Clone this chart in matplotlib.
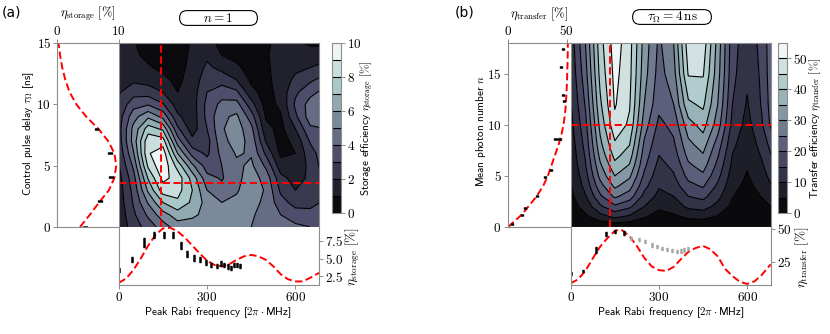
import numpy as np
import matplotlib
matplotlib.use('Agg')
import matplotlib.pyplot as plt
from matplotlib.patches import FancyBboxPatch
from matplotlib.ticker import FuncFormatter

plt.rcParams['mathtext.fontset'] = 'cm'
plt.rcParams['font.family'] = ['cmss10', 'DejaVu Sans']
plt.rcParams['axes.unicode_minus'] = False

# ---------------- data: panel (a) ----------------
rabi_a = [0, 50, 100, 150, 200, 250, 300, 350, 400, 450, 500, 550, 600, 650, 700]
delay_a = list(range(16))
# storage efficiency, one list per Rabi frequency column (delay 0..15 ns)
eta_storage_cols = [
    [1.2, 1.3, 1.4, 1.5, 1.65, 1.9, 2.2, 2.5, 2.6, 2.5, 2.2, 1.9, 1.7, 1.5, 1.4, 1.3],
    [2.5, 2.8, 3.1, 3.3, 3.6, 4.2, 4.9, 5.4, 5.3, 4.6, 3.6, 2.6, 1.8, 1.3, 1.15, 1.05],
    [3.4, 4.2, 5.1, 6.2, 7.1, 8.2, 8.9, 8.7, 7.5, 5.8, 3.9, 2.5, 1.6, 1.1, 0.8, 0.7],
    [4.5, 5.6, 7.0, 8.5, 9.3, 9.8, 9.6, 8.5, 6.8, 4.7, 3.1, 2.0, 1.2, 0.8, 0.5, 0.3],
    [5.5, 6.5, 7.8, 8.4, 8.6, 7.6, 6.0, 4.5, 3.2, 2.2, 1.5, 1.0, 0.8, 0.65, 0.6, 0.6],
    [5.5, 6.2, 6.8, 7.0, 6.6, 5.2, 3.6, 2.3, 1.5, 1.4, 1.5, 1.5, 1.4, 1.3, 1.2, 1.1],
    [5.5, 5.7, 5.6, 5.0, 4.3, 3.5, 2.8, 2.6, 3.0, 3.3, 3.3, 3.0, 2.6, 2.2, 1.8, 1.4],
    [5.5, 5.4, 5.0, 4.3, 3.9, 4.0, 4.3, 4.7, 4.9, 4.8, 4.3, 3.5, 2.6, 1.7, 1.0, 0.7],
    [5.3, 5.3, 5.2, 4.9, 4.7, 4.8, 5.1, 5.4, 5.5, 5.2, 4.4, 3.2, 2.0, 1.2, 0.7, 0.5],
    [5.0, 5.1, 5.3, 5.5, 5.5, 5.2, 4.9, 4.7, 4.3, 3.5, 2.4, 1.3, 0.8, 0.6, 0.6, 0.6],
    [4.7, 4.7, 4.8, 4.9, 4.6, 3.8, 2.8, 1.9, 1.3, 0.9, 0.6, 0.6, 0.7, 0.8, 0.9, 0.9],
    [4.5, 4.0, 3.4, 2.8, 2.3, 1.4, 0.8, 0.6, 0.7, 0.9, 1.2, 1.4, 1.5, 1.5, 1.4, 1.2],
    [4.2, 3.5, 2.6, 2.0, 1.6, 1.2, 1.0, 1.3, 2.0, 2.8, 3.2, 2.8, 2.2, 1.8, 1.5, 1.1],
    [4.0, 3.4, 2.6, 2.2, 2.2, 2.3, 2.6, 3.1, 3.8, 4.5, 4.4, 3.7, 2.8, 2.0, 1.3, 0.9],
    [3.8, 3.5, 3.2, 3.1, 3.3, 3.5, 3.6, 3.7, 4.0, 4.6, 4.8, 4.3, 3.4, 2.4, 1.5, 0.8],
]
cut_rabi_a = 143
cut_delay_a = 3.6

# side panel (left): storage vs delay
side_delay_a = [0, 1, 2, 3, 4, 5, 6, 7, 8, 9, 10, 11, 12, 13, 14, 15]
side_eta_a = [3.7, 5.3, 6.8, 8.4, 9.3, 9.6, 9.3, 8.3, 6.7, 4.7, 3.1, 2.0, 1.3, 0.8, 0.45, 0.2]
pts_delay_a = [0, 2.1, 4.1, 6.05, 8.0]
pts_eta_delay_a = [4.5, 7.0, 8.7, 8.6, 6.4]
pts_eta_delay_err_a = [0.3, 0.3, 0.3, 0.3, 0.3]

# bottom panel: storage vs Rabi frequency
bot_rabi_a = [0, 25, 50, 75, 100, 125, 150, 175, 200, 225, 250, 275, 300, 325, 350, 375,
              400, 425, 450, 475, 500, 525, 550, 575, 600, 625, 650, 680]
bot_eta_a = [1.6, 2.2, 3.4, 5.0, 6.8, 8.3, 9.2, 9.3, 8.8, 7.9, 6.8, 5.7, 4.7, 4.1, 3.9, 4.2,
             4.8, 5.3, 5.5, 5.3, 4.8, 3.9, 2.8, 2.1, 1.8, 1.8, 2.3, 3.0]
pts_rabi_a = [2, 45, 86, 120, 153, 183, 210, 233, 254, 275, 297, 315, 333, 347, 358, 370,
              382, 393, 403, 413]
pts_eta_rabi_a = [3.4, 4.9, 7.2, 8.3, 8.3, 8.3, 6.8, 5.6, 5.1, 4.8, 4.4, 4.1, 4.0, 4.3, 4.1,
                  3.9, 3.7, 4.1, 4.1, 4.0]
pts_eta_rabi_err_a = [0.3, 0.35, 0.6, 0.45, 0.45, 0.45, 0.5, 0.45, 0.4, 0.35, 0.35, 0.3, 0.3,
                      0.35, 0.3, 0.3, 0.3, 0.3, 0.3, 0.3]

# ---------------- data: panel (b) ----------------
rabi_b = [0, 50, 100, 150, 200, 250, 300, 350, 400, 450, 500, 550, 600, 650, 700]
photon_b = [0, 1, 2, 3, 4, 5, 6, 7, 8, 10, 12, 15, 18]
eta_transfer_cols = [
    [0, 1.5, 2.8, 3.8, 4.6, 5.3, 6.0, 6.6, 7.2, 8.5, 9.6, 11, 12],
    [0, 4, 7, 9.5, 11.5, 13, 14.5, 15.5, 16.5, 18.5, 20.5, 23, 25],
    [0.5, 8, 14, 19, 23, 26.5, 29, 31.5, 33.5, 36.5, 39, 41.5, 43],
    [1, 11, 19, 26, 31, 35, 38.5, 41.5, 44, 48.5, 50.5, 51.5, 52.5],
    [0.8, 9, 16, 22.5, 27, 31, 34.5, 37.5, 40, 44, 45.5, 46.5, 47],
    [0.5, 5.5, 10, 13.5, 16.5, 19, 21, 22.5, 24, 27.5, 30, 32, 33],
    [0.3, 3, 6, 8.5, 10.5, 12, 13.5, 15, 16.2, 18.7, 21.5, 23, 24],
    [0.4, 4, 7.5, 10, 12.5, 14.5, 16, 17.5, 19, 21.5, 25, 28, 30],
    [0.5, 6, 11, 15, 18.5, 21.5, 24, 26.5, 28.5, 33, 39, 45.5, 48],
    [0.6, 6.5, 12, 16.5, 20.5, 24, 27, 29.5, 32, 37, 41, 45.5, 48],
    [0.4, 4.5, 8.5, 11.5, 14, 16.5, 18.5, 20.5, 22.5, 27.5, 30, 32, 33],
    [0.2, 2, 3.8, 5.2, 6.5, 7.7, 8.8, 9.8, 11, 13.5, 15, 16.5, 17],
    [0, 0.8, 1.8, 2.8, 3.7, 4.6, 5.4, 6.1, 6.8, 8.2, 9.5, 11, 12],
    [0.2, 1.8, 3.5, 5.2, 6.8, 8.1, 9.3, 10.5, 11.7, 14.5, 15.5, 16, 16.5],
    [0.3, 3, 6, 9, 11.5, 13.5, 15.5, 17.5, 19.5, 25, 26, 27, 27],
]
cut_rabi_b = 135
cut_photon_b = 10

side_photon_b = [0, 0.5, 1, 1.5, 2, 2.5, 3, 4, 5, 6, 7, 8, 9, 10, 11, 12, 14, 16, 18]
side_eta_b = [0.5, 5, 10, 14, 17.5, 21, 24.5, 30, 34, 37, 40, 43, 45.5, 47.3, 48.5, 49.3,
              50.2, 50.7, 51.0]
pts_photon_b = [0.3, 1.15, 1.9, 3.0, 4.9, 5.6, 8.6, 8.6, 12.3, 12.9, 15.7, 17.4]
pts_eta_photon_b = [4, 12, 14.5, 24.5, 31.5, 36.5, 40.5, 44.0, 47.5, 47, 45.5, 46.5]
pts_eta_photon_err_b = [0.8, 0.8, 0.8, 0.8, 0.8, 0.8, 1.5, 1.5, 0.8, 0.8, 0.8, 0.8]

bot_rabi_b = [0, 25, 50, 75, 100, 125, 150, 165, 175, 200, 225, 250, 275, 300, 325, 350,
              375, 400, 425, 450, 475, 500, 525, 550, 575, 600, 625, 650, 680]
bot_eta_b = [8.5, 11.5, 18, 27.5, 36.5, 43, 48.5, 49.5, 49, 44.5, 37, 28, 21.5, 18.5, 18,
             21, 27, 32.5, 35.5, 37, 34.5, 29, 19.5, 14, 9.7, 8.0, 10, 15, 23]
pts_rabi_b = [0, 42, 85, 121, 152, 180]
pts_eta_rabi_b = [16, 18, 34, 46.2, 48, 46.7]
pts_eta_rabi_err_b = [0.8, 1.0, 2.0, 1.5, 1.2, 1.5]
pts_rabi_gray_b = [205, 233, 254, 276, 295, 312, 329, 346, 363, 374, 386, 400]
pts_eta_rabi_gray_b = [42.9, 42.1, 40.3, 37.8, 36.5, 35.2, 34.5, 33.4, 32.7, 33.2, 34, 35.2]
pts_eta_rabi_gray_err_b = [1.3] * 12

# ---------------- figure ----------------
W, H = 830, 334
fig = plt.figure(figsize=(W / 100, H / 100), dpi=100)
SP = '#8c8c8c'
RED = dict(color='red', lw=1.4, ls=(0, (3.8, 1.8)))
TICKFS = 9.5
LABFS = 8


def rect(x0, y0, x1, y1):
    return [x0 / W, 1 - y1 / H, (x1 - x0) / W, (y1 - y0) / H]


def mfmt(fmt):
    return FuncFormatter(lambda v, p: '$' + (fmt % v) + '$')


def style(ax, hide=()):
    for k, s in ax.spines.items():
        s.set_color(SP)
        s.set_linewidth(0.8)
        if k in hide:
            s.set_visible(False)
    ax.tick_params(colors=SP, labelcolor='black', labelsize=TICKFS, length=3, width=0.7, pad=1.5)


def rounded_box(x0, y0, x1, y1, txt):
    bx = fig.add_axes(rect(x0, y0, x1, y1))
    w, h = x1 - x0, y1 - y0
    bx.set_xlim(0, w)
    bx.set_ylim(0, h)
    bx.axis('off')
    bx.add_patch(FancyBboxPatch((0.6, 0.6), w - 1.2, h - 1.2,
                                boxstyle='round,pad=0,rounding_size=%g' % ((h - 1.2) / 2),
                                fc='white', ec='black', lw=0.8))
    bx.text(w / 2, h / 2, txt, ha='center', va='center', fontsize=9.5)


def ftext(x, y, s, **kw):
    fig.text(x / W, 1 - y / H, s, **kw)


def panel(xg, yg, cols, levels, ticks, xmax, ymax, cutx, cuty, px, main_x1,
          side_x0, side_xmax, side_xticks, side_y, side_eta, pty, ptx, ptxerr,
          bot_x, bot_y, ptbx, ptby, ptbyerr, bot_ylim, bot_ticks, bot_fmt,
          cb_x0, gray=None):
    Z = np.array(cols).T
    X, Y = np.meshgrid(xg, yg)
    axm = fig.add_axes(rect(px, 43, main_x1, 227))
    cf = axm.contourf(X, Y, Z, levels=levels, cmap='bone', vmin=levels[0], vmax=levels[-1])
    cl = axm.contour(X, Y, Z, levels=levels[1:-1], colors='k', linewidths=0.8)
    axm.axvline(cutx, **RED)
    axm.axhline(cuty, **RED)
    axm.set_xlim(0, xmax)
    axm.set_ylim(0, ymax)
    axm.set_xticks([])
    axm.set_yticks([])
    style(axm)

    cax = fig.add_axes(rect(cb_x0, 43, cb_x0 + 9, 213))
    cb = fig.colorbar(cf, cax=cax, ticks=ticks)
    cb.add_lines(cl)
    cb.outline.set_edgecolor(SP)
    cb.outline.set_linewidth(0.8)
    cb.ax.yaxis.set_major_formatter(mfmt('%g'))
    cb.ax.tick_params(colors=SP, labelcolor='black', labelsize=TICKFS, length=3, width=0.7, pad=1.5)

    axl = fig.add_axes(rect(side_x0, 43, px, 227))
    axl.plot(side_eta, side_y, **RED)
    axl.errorbar(ptx, pty, xerr=ptxerr, fmt='none', ecolor='black', elinewidth=1.8,
                 capsize=1.0, capthick=1.0)
    axl.set_xlim(0, side_xmax)
    axl.set_ylim(0, ymax)
    axl.xaxis.tick_top()
    axl.set_xticks(side_xticks)
    axl.set_yticks([0, 5, 10, 15])
    axl.xaxis.set_major_formatter(mfmt('%g'))
    axl.yaxis.set_major_formatter(mfmt('%g'))
    style(axl, hide=('right',))
    axl.tick_params(axis='x', pad=0.5)

    axb = fig.add_axes(rect(px, 227, main_x1, 285))
    axb.plot(bot_x, bot_y, **RED)
    if gray is not None:
        axb.errorbar(gray[0], gray[1], yerr=gray[2], fmt='none', ecolor='#a6a6a6',
                     elinewidth=1.8, capsize=1.0, capthick=1.0)
    axb.errorbar(ptbx, ptby, yerr=ptbyerr, fmt='none', ecolor='black', elinewidth=1.8,
                 capsize=1.0, capthick=1.0)
    axb.set_xlim(0, xmax)
    axb.set_ylim(*bot_ylim)
    axb.yaxis.tick_right()
    axb.set_yticks(bot_ticks)
    axb.set_xticks([0, 300, 600])
    axb.xaxis.set_major_formatter(mfmt('%g'))
    axb.yaxis.set_major_formatter(mfmt(bot_fmt))
    style(axb, hide=('top',))


panel(rabi_a, delay_a, eta_storage_cols, np.arange(0, 11, 1), [0, 2, 4, 6, 8, 10],
      680, 15, cut_rabi_a, cut_delay_a, 118.7, 319,
      57.3, 10, [0, 10], side_delay_a, side_eta_a,
      pts_delay_a, pts_eta_delay_a, pts_eta_delay_err_a,
      bot_rabi_a, bot_eta_a, pts_rabi_a, pts_eta_rabi_a, pts_eta_rabi_err_a,
      (1.3, 9.4), [2.5, 5.0, 7.5], '%.1f', 331.7)

panel(rabi_b, photon_b, eta_transfer_cols, np.arange(0, 56, 5), [0, 10, 20, 30, 40, 50],
      680, 18, cut_rabi_b, cut_photon_b, 570.7, 770.7,
      507.7, 53.4, [0, 50], side_photon_b, side_eta_b,
      pts_photon_b, pts_eta_photon_b, pts_eta_photon_err_b,
      bot_rabi_b, bot_eta_b, pts_rabi_b, pts_eta_rabi_b, pts_eta_rabi_err_b,
      (7.2, 51.5), [25, 50], '%g', 777.7,
      gray=(pts_rabi_gray_b, pts_eta_rabi_gray_b, pts_eta_rabi_gray_err_b))

# ---------------- texts ----------------
ftext(11, 12, '(a)', fontsize=10, family='DejaVu Sans', ha='center', va='center')
ftext(465, 13, '(b)', fontsize=10, family='DejaVu Sans', ha='center', va='center')
rounded_box(179, 10, 258, 26, r'$n=1$')
rounded_box(632, 9, 712, 25, r'$\tau_\Omega=4\,\mathrm{ns}$')

ftext(88, 14, r'$\eta_{\rm storage}\ [\%]$', fontsize=9, ha='center', va='center')
ftext(539, 14, r'$\eta_{\rm transfer}\ [\%]$', fontsize=9, ha='center', va='center')

ftext(29, 134, r'Control pulse delay $\tau_\Omega$ [ns]', fontsize=LABFS, rotation=90,
      ha='center', va='center')
ftext(481, 131, r'Mean photon number $n$', fontsize=LABFS, rotation=90,
      ha='center', va='center')

ftext(367, 128, r'Storage efficiency $\eta_{\rm storage}$ $[\%]$', fontsize=LABFS,
      rotation=90, ha='center', va='center')
ftext(815, 128, r'Transfer efficiency $\eta_{\rm transfer}$ $[\%]$', fontsize=LABFS,
      rotation=90, ha='center', va='center')

ftext(353, 257, r'$\eta_{\rm storage}\ [\%]$', fontsize=9.5, rotation=90,
      ha='center', va='center')
ftext(802, 257, r'$\eta_{\rm transfer}\ [\%]$', fontsize=9.5, rotation=90,
      ha='center', va='center')

ftext(218, 313, r'Peak Rabi frequency [$2\pi\cdot$MHz]', fontsize=LABFS,
      ha='center', va='center')
ftext(671, 313, r'Peak Rabi frequency [$2\pi\cdot$MHz]', fontsize=LABFS,
      ha='center', va='center')

fig.savefig('out.png', dpi=100)
